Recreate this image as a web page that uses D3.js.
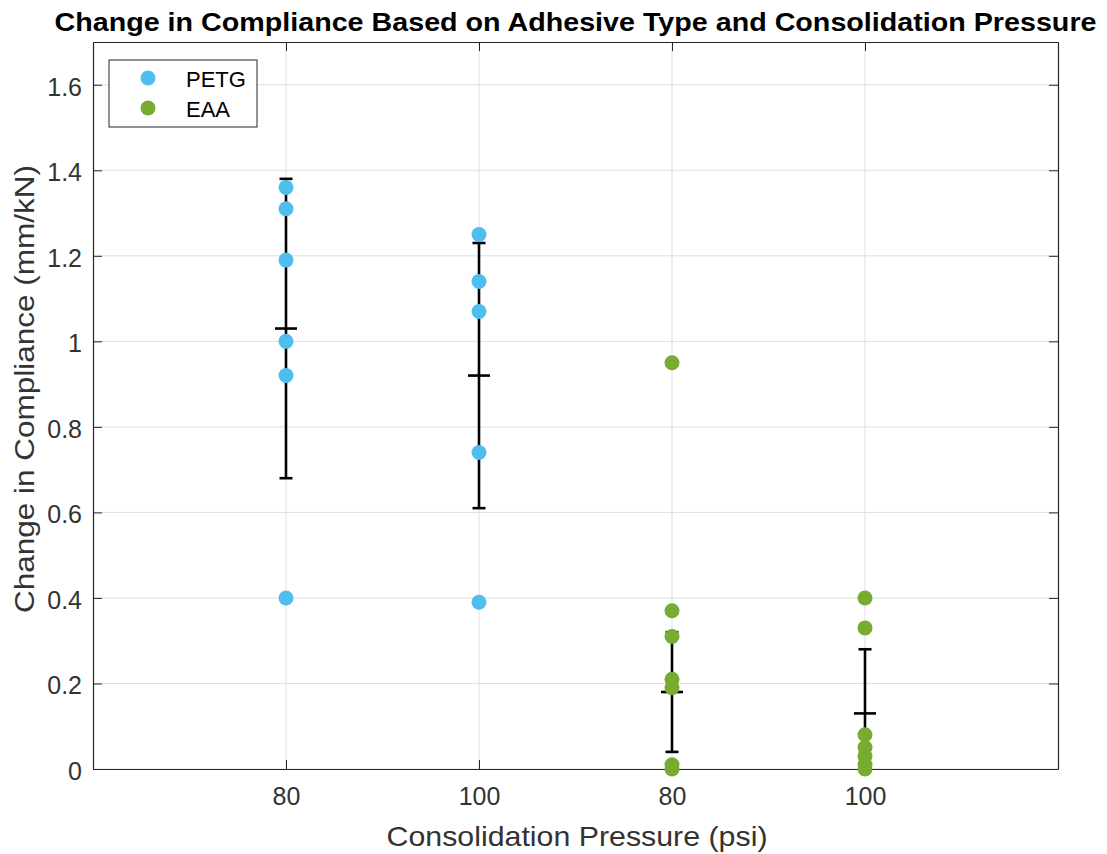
<!DOCTYPE html>
<html>
<head>
<meta charset="utf-8">
<script src="https://cdn.jsdelivr.net/npm/d3@7"></script>
<style>
body { margin: 0; background: #fff; }
text { font-family: "Liberation Sans", Arial, Helvetica, sans-serif; }
</style>
</head>
<body>
<div id="chart"></div>
<script>
// data
const groups = [1, 2, 3, 4];
const tickLabels = ['80', '100', '80', '100'];
const yTicks = [0, 0.2, 0.4, 0.6, 0.8, 1, 1.2, 1.4, 1.6];

const petg80 = [1.36, 1.31, 1.19, 1.00, 0.92, 0.40];
const petg100 = [1.25, 1.14, 1.07, 0.74, 0.39];
const eaa80 = [0.95, 0.37, 0.31, 0.21, 0.19, 0.01, 0.00];
const eaa100 = [0.40, 0.33, 0.08, 0.05, 0.03, 0.01, 0.00];

const means = [1.03, 0.92, 0.18, 0.13];
const errs = [0.35, 0.31, 0.14, 0.15];

const W = 1107, H = 854;
const pLeft = 93, pRight = 1058, pTop = 42, pBottom = 769;

const svg = d3.select('#chart')
  .append('svg')
  .attr('width', W)
  .attr('height', H);

const x = d3.scaleLinear().domain([0, 5]).range([pLeft, pRight]);
const y = d3.scaleLinear().domain([0, 1.7]).range([pBottom, pTop]);

svg.append('defs').append('clipPath').attr('id', 'clip')
  .append('rect')
  .attr('x', pLeft).attr('y', pTop)
  .attr('width', pRight - pLeft).attr('height', pBottom - pTop);

// grid
svg.append('g').selectAll('line')
  .data(yTicks).join('line')
  .attr('x1', pLeft).attr('x2', pRight)
  .attr('y1', d => y(d)).attr('y2', d => y(d))
  .attr('stroke', '#dfdfdf').attr('stroke-width', 1);
svg.append('g').selectAll('line')
  .data(groups).join('line')
  .attr('x1', d => x(d)).attr('x2', d => x(d))
  .attr('y1', pTop).attr('y2', pBottom)
  .attr('stroke', '#dfdfdf').attr('stroke-width', 1);

// axes (ticks inward, box on)
const axisColor = '#262626';
const tl = 9;
const xb = svg.append('g').attr('transform', `translate(0,${pBottom})`)
  .call(d3.axisBottom(x).tickValues(groups).tickFormat((d, i) => tickLabels[i])
    .tickSizeInner(-tl).tickSizeOuter(0).tickPadding(18));
const xt = svg.append('g').attr('transform', `translate(0,${pTop})`)
  .call(d3.axisTop(x).tickValues(groups).tickFormat('')
    .tickSizeInner(-tl).tickSizeOuter(0));
const yl = svg.append('g').attr('transform', `translate(${pLeft},0)`)
  .call(d3.axisLeft(y).tickValues(yTicks).tickFormat(d3.format('~g'))
    .tickSizeInner(-tl).tickSizeOuter(0).tickPadding(11));
const yr = svg.append('g').attr('transform', `translate(${pRight},0)`)
  .call(d3.axisRight(y).tickValues(yTicks).tickFormat('')
    .tickSizeInner(-tl).tickSizeOuter(0));

[xb, xt, yl, yr].forEach(g => {
  g.selectAll('path').attr('stroke', axisColor).attr('stroke-width', 1.2);
  g.selectAll('line').attr('stroke', axisColor);
  g.selectAll('text').attr('fill', '#333').style('font-size', '25px');
});
yl.selectAll('text').attr('dy', '0.42em');

// error bars
const eb = svg.append('g').attr('clip-path', 'url(#clip)');
const ew = 2.6;
eb.selectAll(null)
  .data(groups).join('line')
  .attr('x1', d => x(d)).attr('x2', d => x(d))
  .attr('y1', (d, i) => y(means[i] - errs[i]))
  .attr('y2', (d, i) => y(means[i] + errs[i]))
  .attr('stroke', '#000').attr('stroke-width', ew);
[-1, 1].forEach(s => {
  eb.selectAll(null)
    .data(groups).join('line')
    .attr('x1', d => x(d) - 6.5).attr('x2', d => x(d) + 6.5)
    .attr('y1', (d, i) => y(means[i] + s * errs[i]))
    .attr('y2', (d, i) => y(means[i] + s * errs[i]))
    .attr('stroke', '#000').attr('stroke-width', ew);
});
eb.selectAll(null)
  .data(groups).join('line')
  .attr('x1', d => x(d) - 11).attr('x2', d => x(d) + 11)
  .attr('y1', (d, i) => y(means[i]))
  .attr('y2', (d, i) => y(means[i]))
  .attr('stroke', '#000').attr('stroke-width', ew);

// points
const blue = '#4DBEEE', green = '#77AC30';
const series = [
  { g: 1, vals: petg80, c: blue },
  { g: 2, vals: petg100, c: blue },
  { g: 3, vals: eaa80, c: green },
  { g: 4, vals: eaa100, c: green }
];
series.forEach(s => {
  svg.append('g').selectAll('circle')
    .data(s.vals).join('circle')
    .attr('cx', x(s.g))
    .attr('cy', d => y(d))
    .attr('r', 7.5)
    .attr('fill', s.c);
});

// legend
const lg = svg.append('g');
lg.append('rect')
  .attr('x', 109).attr('y', 60).attr('width', 148).attr('height', 67)
  .attr('fill', '#fff').attr('stroke', axisColor).attr('stroke-width', 1);
[['PETG', blue], ['EAA', green]].forEach((d, i) => {
  lg.append('circle').attr('cx', 148).attr('cy', 78 + i * 30).attr('r', 7.5).attr('fill', d[1]);
  lg.append('text').attr('x', 186).attr('y', 78 + i * 30).attr('dy', '0.4em')
    .attr('fill', '#000').style('font-size', '22px').text(d[0]);
});

// title and labels
svg.append('text')
  .attr('x', (pLeft + pRight) / 2).attr('y', 31)
  .attr('text-anchor', 'middle')
  .attr('textLength', 1042).attr('lengthAdjust', 'spacingAndGlyphs')
  .style('font-size', '26px').style('font-weight', 'bold')
  .attr('fill', '#000')
  .text('Change in Compliance Based on Adhesive Type and Consolidation Pressure');

svg.append('text')
  .attr('x', 577).attr('y', 846)
  .attr('text-anchor', 'middle')
  .attr('textLength', 381).attr('lengthAdjust', 'spacingAndGlyphs')
  .style('font-size', '28px').attr('fill', '#333')
  .text('Consolidation Pressure (psi)');

svg.append('text')
  .attr('transform', 'translate(34,389) rotate(-90)')
  .attr('text-anchor', 'middle')
  .attr('textLength', 448).attr('lengthAdjust', 'spacingAndGlyphs')
  .style('font-size', '28px').attr('fill', '#333')
  .text('Change in Compliance (mm/kN)');
</script>
</body>
</html>
